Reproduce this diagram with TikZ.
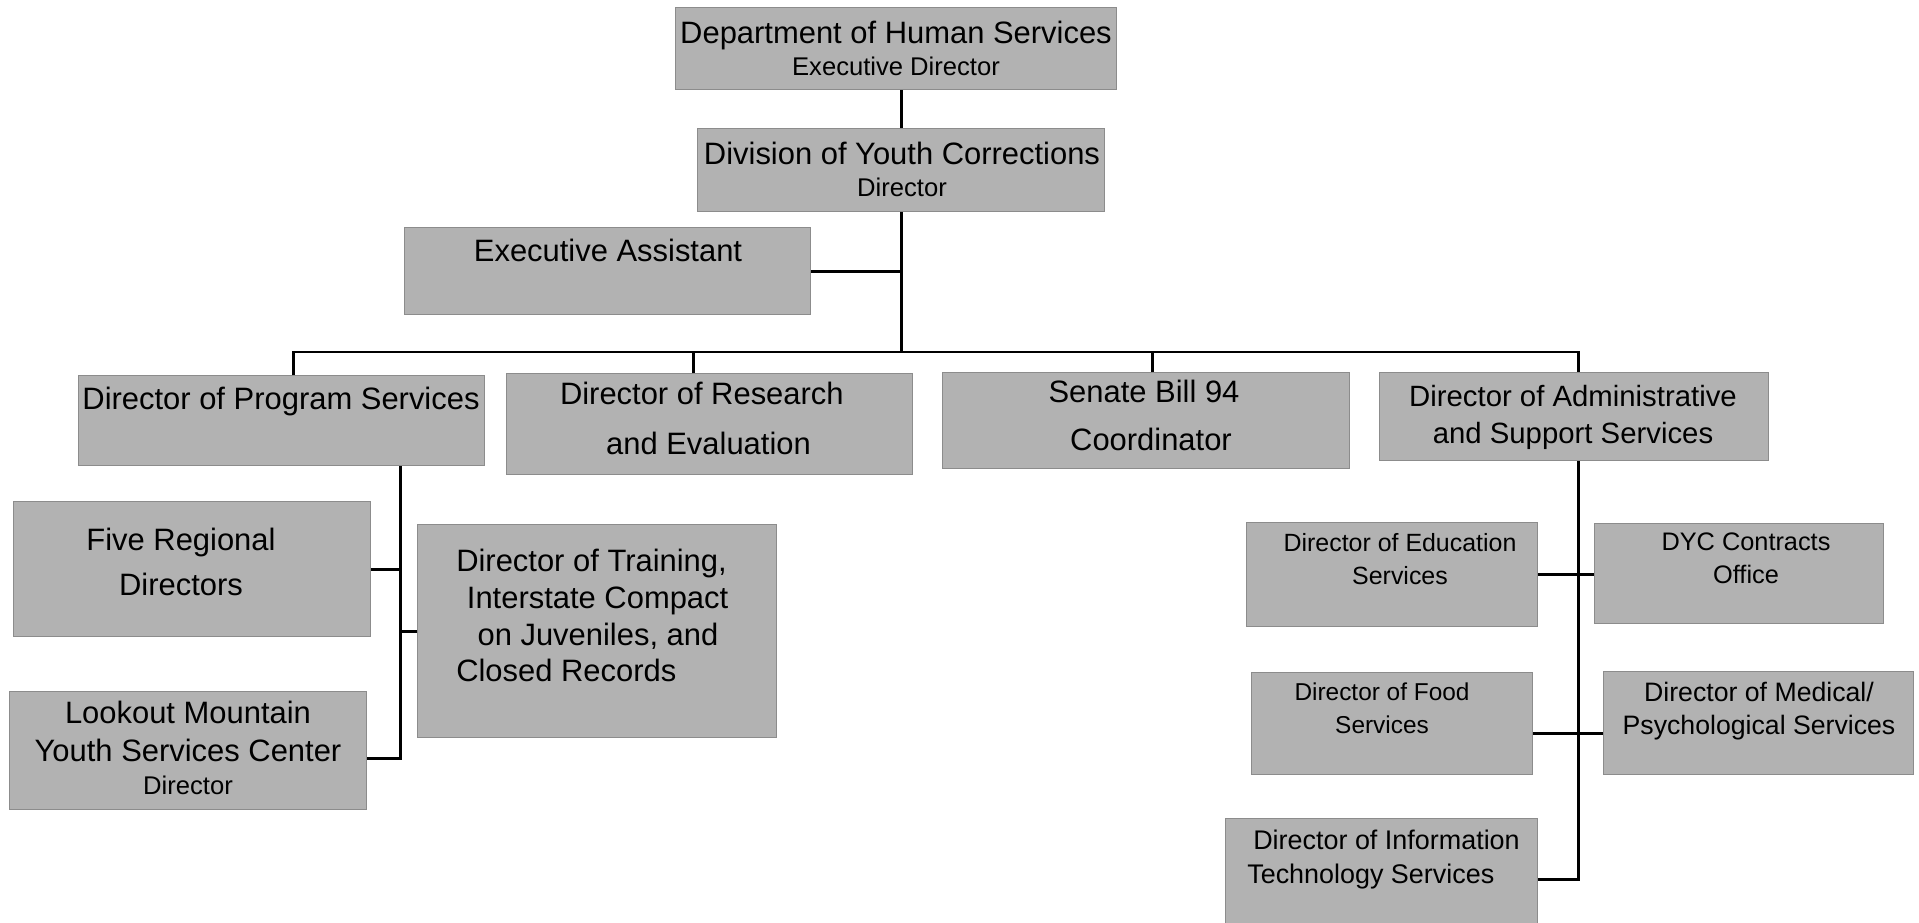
\documentclass[tikz,border=0pt]{standalone}
\usepackage{fontspec}
\setmainfont{Liberation Sans}
\usepackage{xcolor}
\definecolor{boxfill}{RGB}{178,178,178}
\definecolor{boxline}{RGB}{140,140,140}

\begin{document}
\begin{tikzpicture}[x=0.75pt,y=0.75pt,yscale=-1,xscale=1,
  box/.style={draw=boxline,fill=boxfill,line width=0.9pt,inner sep=0pt,anchor=north west},
  txt/.style={inner sep=0pt,anchor=north,align=center},
  conn/.style={line width=2.2pt,black},
  bigtext/.style={font=\fontsize{23.2}{#1}\selectfont},
  smalltext/.style={font=\fontsize{19}{#1}\selectfont}]
\useasboundingbox (0,0) rectangle (1919,923);
\clip (0,0) rectangle (1919,923);

%Shape: Rectangle [top]
\node[box,minimum width=330.75pt,minimum height=61.5pt] (dhs) at (675,7) {};
\node[box,minimum width=305.25pt,minimum height=62.25pt] (dyc) at (697,128) {};
\node[box,minimum width=304.5pt,minimum height=65.25pt] (assist) at (404,227) {};
%Shape: Rectangle [second row]
\node[box,minimum width=304.5pt,minimum height=67.5pt] (progsvc) at (78,375) {};
\node[box,minimum width=304.5pt,minimum height=75.75pt] (research) at (506,373) {};
\node[box,minimum width=305.25pt,minimum height=72pt] (sb94) at (942,372) {};
\node[box,minimum width=291.75pt,minimum height=66pt] (admin) at (1378.5,372) {};
%Shape: Rectangle [program services]
\node[box,minimum width=267.75pt,minimum height=101.25pt] (regional) at (13,501) {};
\node[box,minimum width=269.25pt,minimum height=159.75pt] (training) at (417,524) {};
\node[box,minimum width=267.75pt,minimum height=88.5pt] (lookout) at (9,691) {};
%Shape: Rectangle [support services]
\node[box,minimum width=218.25pt,minimum height=78pt] (educ) at (1246,522) {};
\node[box,minimum width=216.75pt,minimum height=75pt] (contracts) at (1594,523) {};
\node[box,minimum width=210.75pt,minimum height=76.5pt] (food) at (1251,672) {};
\node[box,minimum width=232.5pt,minimum height=77.25pt] (medical) at (1603,671) {};
\node[box,minimum width=234pt,minimum height=91.5pt] (infotech) at (1225,818) {};

%Straight Lines
\coordinate (bus) at (dyc.south |- 0,352);
\draw[conn] (dyc.north |- dhs.south) -- (dyc.north);
\draw[conn] (dyc.south) -- (bus);
\draw[conn] (assist.east) -- (assist.east -| bus);
\draw[conn] ([xshift=9pt]progsvc.north) |- (bus) -| ([xshift=4pt]admin.north);
\draw[conn] ([xshift=-12pt]research.north) -- ([xshift=-12pt]research.north |- bus);
\draw[conn] ([xshift=5pt]sb94.north) -- ([xshift=5pt]sb94.north |- bus);

\coordinate (pv) at ([xshift=89pt]progsvc.south);
\draw[conn] (pv) |- ([yshift=6pt]lookout.east);
\draw[conn] (regional.east) -- (regional.east -| pv);
\draw[conn] (training.west) -- (training.west -| pv);

\coordinate (av) at ([xshift=4pt]admin.south);
\draw[conn] (av) |- (infotech.east);
\draw[conn] (educ.east) -- (educ.east -| contracts.west);
\draw[conn] ([yshift=7.5pt]food.east) -- ([yshift=7.5pt]food.east -| medical.west);

% Text Node
\node[txt,bigtext=24pt] (dhs-t) at (896,21) {Department of Human Services\\{\fontsize{19.2}{24}\selectfont Executive Director}};
\node[txt,bigtext=24pt] (dyc-t) at (902,142) {Division of Youth Corrections\\{\fontsize{19.2}{24}\selectfont Director}};
\node[txt,bigtext=27pt] (assist-t) at (608,239) {Executive Assistant};
\node[txt,bigtext=27pt] (progsvc-t) at (281,387) {Director of Program Services};
\node[txt,bigtext=37.5pt] (research-t) at (708.5,382) {Director of Research\hspace*{10pt}\\and Evaluation};
\node[txt,bigtext=36pt] (sb94-t) at (1151,380) {Senate Bill 94\hspace*{10.5pt}\\Coordinator};
\node[txt,font=\fontsize{22}{28}\selectfont] (admin-t) at (1573,385) {Director of Administrative\\and Support Services};
\node[txt,bigtext=33.75pt] (regional-t) at (181,528) {Five Regional\\Directors};
\node[txt,bigtext=27.5pt,anchor=north west,align=left] (training-t) at (456,549) {Director of Training,\\\hspace*{8pt}Interstate Compact\\\hspace*{16pt}on Juveniles, and\\Closed Records};
\node[txt,bigtext=28.5pt] (lookout-t) at (188,701) {Lookout Mountain\\Youth Services Center\\[-3.75pt]{\fontsize{19.2}{24}\selectfont Director}};
\node[txt,font=\fontsize{18.7}{24.5}\selectfont] (educ-t) at (1400,533) {Director of Education\\Services};
\node[txt,smalltext=24.5pt] (contracts-t) at (1746,533) {DYC Contracts\\Office};
\node[txt,font=\fontsize{18.3}{24.5}\selectfont] (food-t) at (1382,683) {Director of Food\\Services};
\node[txt,font=\fontsize{20}{24.5}\selectfont] (medical-t) at (1759,682) {Director of Medical/\\Psychological Services};
\node[txt,font=\fontsize{20.2}{25.5}\selectfont,anchor=north west,align=left] (infotech-t) at (1247,830) {\hspace*{4.5pt}Director of Information\\Technology Services};

\end{tikzpicture}
\end{document}
